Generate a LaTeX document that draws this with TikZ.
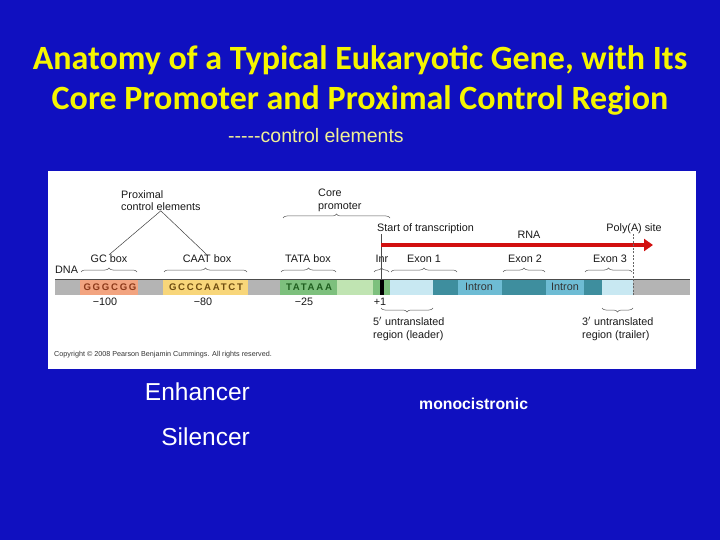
\documentclass[tikz,border=0pt]{standalone}
\usepackage{fontspec}
\setmainfont{Liberation Sans}
\newfontfamily\titlefont{Carlito}
\newfontfamily\seqfont[LetterSpace=18]{Liberation Sans}
\usetikzlibrary{arrows.meta,decorations.pathreplacing}
\definecolor{slideblue}{RGB}{16,16,192}
\definecolor{titleyellow}{RGB}{245,245,0}
\definecolor{paleyellow}{RGB}{240,240,150}
\definecolor{dnagray}{RGB}{180,180,180}
\definecolor{gcfill}{RGB}{242,164,128}
\definecolor{caatfill}{RGB}{248,214,122}
\definecolor{tatafill}{RGB}{125,192,125}
\definecolor{lightgreen}{RGB}{192,228,178}
\definecolor{utrblue}{RGB}{200,232,242}
\definecolor{exonteal}{RGB}{62,142,158}
\definecolor{intronblue}{RGB}{110,188,212}
\definecolor{rnared}{RGB}{210,16,16}

\begin{document}
\begin{tikzpicture}[x=1pt,y=-1pt,
  lbl/.style={font=\fontsize{10.8}{12.5}\selectfont, text=black!90, inner sep=0pt},
  seq/.style={font=\seqfont\bfseries\fontsize{9.6}{10}\selectfont, inner sep=0pt},
  brc/.style={decorate, decoration={brace,amplitude=4pt}, draw=black!65, line width=0.5pt}]
\fill[slideblue] (0,0) rectangle (720,540);
\node[font=\titlefont\bfseries\fontsize{34}{40}\selectfont, text=titleyellow, align=center] (title) at (360,80)
  {Anatomy of a Typical Eukaryotic Gene, with Its\\Core Promoter and Proximal Control Region};
\node[anchor=west, inner sep=0pt, font=\fontsize{19.5}{22}\selectfont, text=paleyellow] (ctrl) at (228,136) {-{}-{}-{}-{}-control elements};
\fill[white] (48,171) rectangle (696,369);
\foreach \l/\r/\c/\n in {55/80/dnagray/dA, 80/138/gcfill/gc, 138/163/dnagray/dB, 163/248/caatfill/caat,
    248/280/dnagray/dC, 280/337/tatafill/tata, 337/373/lightgreen/lg, 373/390/tatafill/inr,
    390/433/utrblue/utr5, 433/458/exonteal/ex1, 458/502/intronblue/in1, 502/546/exonteal/ex2,
    546/584/intronblue/in2, 584/602/exonteal/ex3, 602/633/utrblue/utr3, 633/690/dnagray/dD} {
  \fill[\c] (\l,279) rectangle (\r,295);
  \coordinate (\n-l) at (\l,279);
  \coordinate (\n-r) at (\r,279);
}
\fill[black] (380,279) rectangle (384,295);
\draw[black!70, line width=0.6pt] (dA-l) -- (dD-r);
\node[seq, text={rgb,255:red,140;green,58;blue,26}] (gcseq) at (110,287) {GGGCGG};
\node[seq, text={rgb,255:red,110;green,76;blue,16}] (caatseq) at (206,287) {GCCCAATCT};
\node[seq, text={rgb,255:red,30;green,94;blue,30}] (tataseq) at (309,287) {TATAAA};
\node[lbl, text=black!80] (intr1) at (479,287) {Intron};
\node[lbl, text=black!80] (intr2) at (565,287) {Intron};
\node[lbl, anchor=west] (dna) at (55,270) {DNA};
\node[lbl] (gclab) at (109,259) {GC box};
\node[lbl] (caatlab) at (207,259) {CAAT box};
\node[lbl] (tatalab) at (308,259) {TATA box};
\node[lbl] (inrlab) at (382,259) {Inr};
\node[lbl] (ex1lab) at (424,259) {Exon 1};
\node[lbl] (ex2lab) at (525,259) {Exon 2};
\node[lbl] (ex3lab) at (610,259) {Exon 3};
\node[lbl] (m100) at (105,302) {−100};
\node[lbl] (m80) at (203,302) {−80};
\node[lbl] (m25) at (304,302) {−25};
\node[lbl] (p1) at (380,302) {+1};
\draw[brc] ([shift={(1,-7)}]gc-l) -- ([shift={(-1,-7)}]gc-r);
\draw[brc] ([shift={(1,-7)}]caat-l) -- ([shift={(-1,-7)}]caat-r);
\draw[brc] ([shift={(1,-7)}]tata-l) -- ([shift={(-1,-7)}]tata-r);
\draw[brc] ([shift={(1,-7)}]inr-l) -- ([shift={(-1,-7)}]inr-r);
\draw[brc] ([shift={(1,-7)}]utr5-l) -- ([shift={(-1,-7)}]ex1-r);
\draw[brc] ([shift={(1,-7)}]ex2-l) -- ([shift={(-1,-7)}]ex2-r);
\draw[brc] ([shift={(1,-7)}]ex3-l) -- ([shift={(-1,-7)}]utr3-r);
\node[lbl, anchor=north west, align=left] (prox) at (121,190) {Proximal\\control elements};
\draw[black!75, line width=0.5pt] (prox.south) -- (gclab.north);
\draw[black!75, line width=0.5pt] (prox.south) -- (caatlab.north);
\node[lbl, anchor=north west, align=left] (core) at (318,189) {Core\\promoter};
\draw[brc] ([shift={(3,-61)}]tata-l) -- ([shift={(0,-61)}]inr-r);
\coordinate (tss) at (381,279);
\coordinate (rnaend) at (653,245);
\node[lbl, anchor=west] (start) at (377,229) {Start of transcription};
\draw[black!70, line width=0.5pt] (tss) -- (tss |- start.south);
\draw[rnared, line width=4.5pt, -{Triangle[length=9pt,width=12pt]}] (tss |- rnaend) -- (rnaend);
\node[lbl] (rna) at (529,235) {RNA};
\node[lbl] (poly) at (634,229) {Poly(A) site};
\coordinate (pa) at (633,295);
\draw[black!60, dashed, line width=0.5pt, dash pattern=on 2pt off 1.5pt] (pa) -- (pa |- poly.south);
\draw[brc] ([shift={(0,29)}]utr5-r) -- ([shift={(0,29)}]tss);
\node[lbl, anchor=north west, align=left] (utr5lab) at (373,317) {5$'$ untranslated\\region (leader)};
\draw[brc] ([shift={(0,29)}]utr3-r) -- ([shift={(0,29)}]utr3-l);
\node[lbl, anchor=north west, align=left] (utr3lab) at (582,317) {3$'$ untranslated\\region (trailer)};
\node[anchor=west, inner sep=0pt, font=\fontsize{7.2}{8}\selectfont, text=black!80] (copy) at (54,355)
  {Copyright \textcopyright\ 2008 Pearson Benjamin Cummings. All rights reserved.};
\node[anchor=east, inner sep=0pt, font=\fontsize{24.5}{28}\selectfont, text=white] (enh) at (250,392) {Enhancer};
\node[anchor=east, inner sep=0pt, font=\fontsize{24.5}{28}\selectfont, text=white] (sil) at (250,437) {Silencer};
\node[anchor=west, inner sep=0pt, font=\bfseries\fontsize{15.8}{18}\selectfont, text=white] (mono) at (419,404) {monocistronic};
\end{tikzpicture}
\end{document}
